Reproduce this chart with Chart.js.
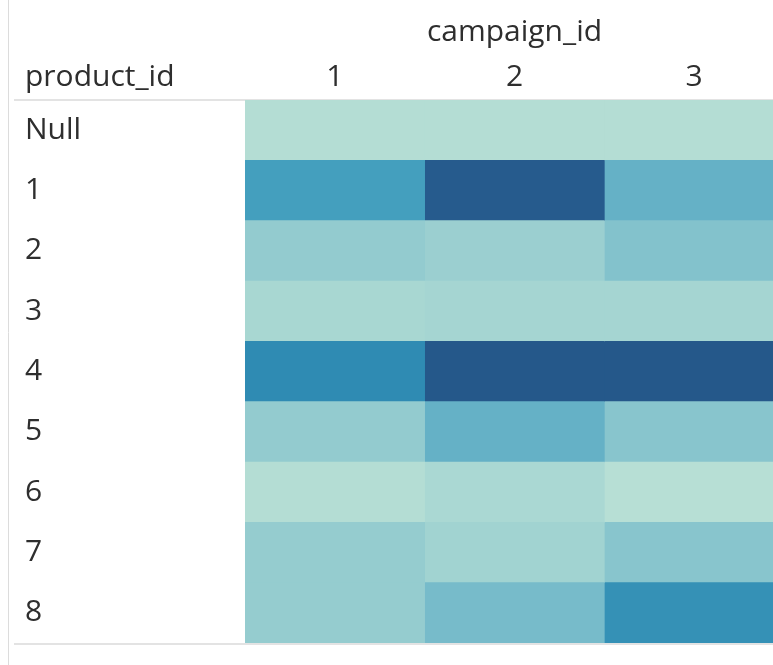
<!DOCTYPE html>
<html>
<head>
<meta charset="utf-8">
<title>product_id by campaign_id</title>
<script src="https://cdn.jsdelivr.net/npm/chart.js"></script>
<style>
  body { margin: 0; background: #fff; overflow: hidden; }
  #wrap { width: 800px; height: 665px; }
</style>
</head>
<body>
<div id="wrap"><canvas id="heatChart" width="800" height="665"></canvas></div>
<script>
// rows and columns of the table
var products = ["Null", "1", "2", "3", "4", "5", "6", "7", "8"];
var campaigns = ["1", "2", "3"];

// one list per campaign, one value per product row
var campaign1 = [3, 60, 25, 11, 70, 25, 3, 24, 24];
var campaign2 = [3, 98, 20, 13, 100, 45, 10, 16, 37];
var campaign3 = [3, 45, 32, 13, 100, 30, 1, 30, 67];

var valueMax = 100;

// blue-teal sequential palette
var colorStops = [
  [0.00, [185, 224, 213]],
  [0.25, [147, 203, 207]],
  [0.45, [101, 177, 198]],
  [0.60, [68, 159, 190]],
  [0.70, [47, 139, 179]],
  [1.00, [37, 88, 138]]
];

function heatColor(v) {
  var t = Math.max(0, Math.min(1, v / valueMax));
  for (var i = 1; i < colorStops.length; i++) {
    if (t <= colorStops[i][0]) {
      var a = colorStops[i - 1], b = colorStops[i];
      var f = (t - a[0]) / (b[0] - a[0]);
      var c = a[1].map(function (x, k) { return Math.round(x + (b[1][k] - x) * f); });
      return "rgb(" + c.join(",") + ")";
    }
  }
  return "rgb(" + colorStops[colorStops.length - 1][1].join(",") + ")";
}

var textColor = "#2e2e2e";
var labelFont = { family: "'Open Sans', sans-serif", size: 30 };

function makeColumn(label, values) {
  return {
    label: "campaign_id " + label,
    data: values.map(function () { return 1; }),
    values: values,
    backgroundColor: values.map(heatColor),
    borderWidth: 0,
    barPercentage: 1,
    categoryPercentage: 1
  };
}

// gutter rules and the row header caption
var tableFrame = {
  id: "tableFrame",
  beforeDatasetsDraw: function (chart) {
    var ctx = chart.ctx, area = chart.chartArea;
    ctx.save();
    ctx.strokeStyle = "#dcdcdc";
    ctx.lineWidth = 1;
    ctx.beginPath();
    ctx.moveTo(8.5, 0);
    ctx.lineTo(8.5, chart.height);
    ctx.stroke();
    ctx.strokeStyle = "#e3e3e3";
    ctx.lineWidth = 2;
    ctx.beginPath();
    ctx.moveTo(14, area.top);
    ctx.lineTo(chart.width, area.top);
    ctx.moveTo(14, area.bottom + 1);
    ctx.lineTo(chart.width, area.bottom + 1);
    ctx.stroke();
    ctx.fillStyle = textColor;
    ctx.font = labelFont.size + "px " + labelFont.family;
    ctx.textAlign = "left";
    ctx.textBaseline = "middle";
    ctx.fillText("product_id", chart.scales.y.left, area.top - 23);
    ctx.restore();
  }
};

new Chart(document.getElementById("heatChart"), {
  type: "bar",
  data: {
    labels: products,
    datasets: [
      makeColumn(campaigns[0], campaign1),
      makeColumn(campaigns[1], campaign2),
      makeColumn(campaigns[2], campaign3)
    ]
  },
  options: {
    indexAxis: "y",
    responsive: false,
    animation: false,
    layout: { padding: { left: 25, right: 16, top: 0, bottom: 22 } },
    plugins: {
      legend: { display: false },
      tooltip: {
        callbacks: {
          label: function (c) { return c.dataset.label + ": " + c.dataset.values[c.dataIndex]; }
        }
      }
    },
    scales: {
      x: { type: "linear", min: 0, max: 3, stacked: true, display: false },
      xTop: {
        type: "category",
        labels: campaigns,
        position: "top",
        offset: true,
        grid: { display: false, drawTicks: false, tickLength: 0 },
        border: { display: false },
        ticks: { color: textColor, font: labelFont, padding: 5 },
        title: { display: true, text: "campaign_id", color: textColor, font: labelFont, padding: { top: 14, bottom: 0 } },
        afterFit: function (s) { s.height = 100; }
      },
      y: {
        type: "category",
        stacked: true,
        grid: { display: false, drawTicks: false, tickLength: 0 },
        border: { display: false },
        ticks: { color: textColor, font: labelFont, crossAlign: "far", padding: 0 },
        afterFit: function (s) { s.width = 220; }
      }
    }
  },
  plugins: [tableFrame]
});
</script>
</body>
</html>
